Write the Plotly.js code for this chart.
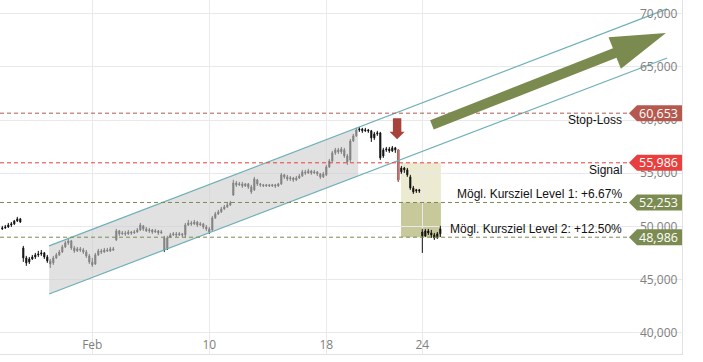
<!DOCTYPE html>
<html><head><meta charset="utf-8">
<script src="https://cdn.plot.ly/plotly-3.0.1.min.js"></script>
<style>html,body{margin:0;padding:0;background:#fff;}#chart{width:703px;height:362px;}</style>
</head><body><div id="chart"></div>
<script>
const openP = [
49770,49860,49950,50140,50240,50520,50710,
47980,47040,46660,46940,47130,47320,47410,
47510,47130,46760,46570,47040,47320,47600,
48070,48450,48640,47980,47700,47890,47790,
47600,47230,46660,46470,47320,47700,47600,
47790,47700,47890,48730,49580,49300,49390,
49300,49480,49390,49480,49670,50050,49770,
49580,49670,49480,49580,49390,48920,47890,
49010,49200,49300,49200,49300,49200,50140,
50330,50240,50420,50140,50240,49950,49770,
49670,50800,51180,51370,51650,51840,52020,
52960,54090,53910,54000,53810,54000,53720,
53440,54380,54000,53910,53810,53910,53810,
53910,53810,54000,54850,54660,54470,54560,
54380,54560,54750,55130,55030,55220,55030,
55130,54940,54660,54850,55600,56160,56920,
57200,57010,57200,56630,56260,58040,58520,
59080,59170,58990,59080,58990,58330,58700,
58800,56630,57200,57290,57100,57390,57200,
55130,55500,55320,54660,53620,53340,53440,
49480,49110,49580,49390,49200,48920,49300];
const closeP = [
49860,49950,50140,50240,50520,50710,50420,
47040,46570,46940,47130,47320,47410,47510,
47130,46760,46470,47040,47320,47600,48070,
48450,48640,47980,47700,47890,47790,47600,
47230,46660,46380,47320,47700,47600,47790,
47700,47890,47790,49580,49300,49390,49300,
49480,49390,49480,49670,50140,49770,49580,
49670,49480,49580,49390,49480,47790,48920,
49200,49300,49200,49300,49200,50140,50330,
50240,50420,50140,50240,49950,49770,49480,
50800,51180,51370,51650,51840,52020,52210,
54090,53910,54000,53810,54000,53720,53250,
54470,54000,53910,53810,53910,53810,53910,
53810,54000,54850,54660,54470,54560,54380,
54560,54750,55130,55030,55220,55030,55130,
54940,54660,54940,55600,56160,56920,57200,
57010,57290,56630,56070,58040,58520,59080,
59170,58990,59080,58990,58330,58700,58800,
56450,57200,57290,57100,57390,57200,54380,
55500,55320,54850,53620,53250,53440,53340,
49110,49580,49390,49200,48920,49300,49770];
const highP = [
50050,50140,50330,50420,50610,50900,50800,
48170,47230,47130,47320,47510,47700,47790,
47600,47320,46940,47230,47510,47790,48260,
48640,48920,48730,48170,48070,48070,47980,
47790,47410,47040,47510,47890,47890,47980,
47980,48070,48070,49770,49670,49580,49580,
49670,49580,49670,49860,50330,50140,49950,
49860,49770,49770,49670,49670,49110,49110,
49390,49480,49480,49480,49390,50330,50610,
50520,50610,50520,50420,50330,50140,49950,
50990,51370,51550,51840,52020,52210,52400,
54380,54280,54190,54190,54090,54090,53910,
54660,54470,54090,54000,54000,54000,54000,
54000,54090,55030,54940,54850,54750,54660,
54750,54940,55320,55320,55410,55320,55320,
55220,55030,55130,55790,56350,57100,57390,
57390,57480,57390,56820,58230,58700,59270,
59360,59270,59270,59170,59080,58890,58990,
58890,57390,57480,57480,57570,57480,57200,
55690,55600,55500,54850,53810,53530,53530,
49770,49770,49770,49670,49390,49480,50050];
const lowP = [
49670,49770,49860,49950,50140,50420,50330,
46660,46290,46470,46850,46940,47130,47230,
46940,46570,46100,46380,46940,47230,47510,
47980,48260,47790,47510,47600,47600,47410,
47040,46470,46190,46380,47230,47410,47510,
47600,47600,47700,48640,49110,49200,49110,
49200,49200,49300,49390,49580,49580,49480,
49390,49300,49390,49200,49300,47600,47790,
48920,49110,49010,49110,49010,48920,50050,
50050,50140,49950,50050,49770,49580,49300,
49580,50710,51080,51270,51550,51740,51930,
52870,53720,53810,53620,53720,53530,53060,
53340,53810,53720,53720,53720,53720,53720,
53620,53720,53910,54470,54280,54280,54190,
54280,54470,54660,54850,54940,54850,54940,
54750,54470,54560,54750,55500,56070,56730,
56820,56820,56450,55790,56070,57950,58420,
58890,58800,58890,58800,57950,58140,58520,
56260,56450,57010,56920,57010,56920,54190,
54940,55030,54660,53440,53060,53150,53150,
47510,49010,49200,48920,48730,48830,49010];

const tickIdx = [30, 69, 108, 140];
const tickText = ['Feb', '10', '18', '24'];
const yTicks = [40000, 45000, 50000, 55000, 60000, 65000, 70000];
const levels = [60653, 55986, 52253, 48986];
const levelNames = ['Stop-Loss', 'Signal', 'Mögl. Kursziel Level 1: +6.67%', 'Mögl. Kursziel Level 2: +12.50%'];
const channelX = [15.6, 221.6];
const channelUpper = [48170, 70460];
const channelLower = [43650, 65850];
const channelFillEnd = 118.6;
const signalIdx = 132;
const targetBoxX = [132.9, 146.2];
const trendStart = [143.2, 59550];

const idx = openP.map((_, i) => i);
function interp(xs, ys, x) { return ys[0] + (ys[1] - ys[0]) * (x - xs[0]) / (xs[1] - xs[0]); }

const lineColors = ['#b35a4f', '#e5413d', '#7b8b50', '#7b8b50'];
const tagColors = ['#b5594f', '#e8403e', '#7b8b52', '#7b8b52'];
const LBL = 'Liberation Sans, Arial, sans-serif';
const AX = 'Open Sans, sans-serif';

const traces = [
  { type: 'scatter', mode: 'lines', fill: 'toself', fillcolor: 'rgba(205,205,205,0.6)', line: { width: 0 },
    x: [channelX[0], channelFillEnd, channelFillEnd, channelX[0], channelX[0]],
    y: [interp(channelX, channelUpper, channelX[0]), interp(channelX, channelUpper, channelFillEnd),
        interp(channelX, channelLower, channelFillEnd), interp(channelX, channelLower, channelX[0]),
        interp(channelX, channelUpper, channelX[0])], hoverinfo: 'skip' },
  { type: 'scatter', mode: 'lines', x: channelX, y: channelUpper, line: { color: '#6eb0b8', width: 1.2 } },
  { type: 'scatter', mode: 'lines', x: channelX, y: channelLower, line: { color: '#6eb0b8', width: 1.2 } },
  { type: 'candlestick', x: idx, open: openP, high: highP, low: lowP, close: closeP,
    increasing: { line: { color: '#111', width: 1 }, fillcolor: '#111' },
    decreasing: { line: { color: '#111', width: 1 }, fillcolor: '#111' } },
  { type: 'candlestick', x: [signalIdx], open: [openP[signalIdx]], high: [highP[signalIdx]], low: [lowP[signalIdx]], close: [closeP[signalIdx]],
    increasing: { line: { color: '#cf6b68', width: 1 }, fillcolor: '#e39a98' },
    decreasing: { line: { color: '#cf6b68', width: 1 }, fillcolor: '#e39a98' } }
];

const shapes = [
  { type: 'rect', xref: 'x', yref: 'y', x0: targetBoxX[0], x1: targetBoxX[1], y0: levels[1], y1: levels[2],
    fillcolor: '#ecebd1', line: { width: 0 }, layer: 'below' },
  { type: 'rect', xref: 'x', yref: 'y', x0: targetBoxX[0], x1: targetBoxX[1], y0: levels[2], y1: levels[3],
    fillcolor: '#c8c99b', line: { width: 0 }, layer: 'below' }
];
const annotations = [];
levels.forEach((v, i) => {
  shapes.push({ type: 'line', xref: 'paper', yref: 'y', x0: 0, x1: 629 / 682, y0: v, y1: v,
    line: { color: lineColors[i], width: 1, dash: '4px,3px' }, layer: 'above' });
  shapes.push({ type: 'path', xref: 'paper', yref: 'y', xsizemode: 'pixel', ysizemode: 'pixel',
    xanchor: 1, yanchor: v, path: 'M -53 0 L -45 8 L 0 8 L 0 -8 L -45 -8 Z',
    fillcolor: tagColors[i], line: { width: 0 }, layer: 'above' });
  annotations.push({ xref: 'paper', yref: 'y', x: 658 / 682, y: v, text: v.toLocaleString('en-US'),
    showarrow: false, xanchor: 'center', yanchor: 'middle', font: { family: AX, size: 12.5, color: '#fff' } });
  annotations.push({ xref: 'paper', yref: 'y', x: 623 / 682, y: v, text: levelNames[i], showarrow: false,
    xanchor: 'right', yanchor: i < 2 ? 'top' : 'bottom', borderpad: 0, yshift: i < 2 ? 1 : 0,
    font: { family: LBL, size: 12, color: '#111' } });
});
// big trend arrow
shapes.push({ type: 'path', xref: 'x', yref: 'y', xsizemode: 'pixel', ysizemode: 'pixel',
  xanchor: trendStart[0], yanchor: trendStart[1],
  path: 'M 1.8 -4.7 L -1.8 4.7 L 181 76.6 L 176.6 87.7 L 234 92 L 189 56.1 L 184.6 67.2 Z',
  fillcolor: '#7b8b50', line: { width: 0 }, layer: 'above' });
// red down arrow above the signal candle
shapes.push({ type: 'path', xref: 'x', yref: 'y', xsizemode: 'pixel', ysizemode: 'pixel',
  xanchor: signalIdx - 0.4, yanchor: highP[signalIdx] + 1000,
  path: 'M 0 0 L 7.5 7.6 L 4.2 7.6 L 4.2 21 L -4.2 21 L -4.2 7.6 L -7.5 7.6 Z',
  fillcolor: '#a8433b', line: { width: 0 }, layer: 'above' });

const layout = {
  width: 703, height: 362,
  margin: { l: 0, r: 21, t: 0, b: 8 },
  paper_bgcolor: '#fff', plot_bgcolor: '#fff', showlegend: false,
  boxgap: 0.5,
  xaxis: { range: [-0.77, 226.56], tickmode: 'array', tickvals: tickIdx, ticktext: tickText,
    ticklabelposition: 'inside', ticklabelstandoff: 2, ticks: '', showgrid: true, gridcolor: '#e9e9e9', gridwidth: 1,
    showline: true, linecolor: '#e2e2e2', zeroline: false, rangeslider: { visible: false },
    tickfont: { family: AX, size: 12, color: '#808080' } },
  yaxis: { side: 'right', range: [38000, 71300], tickmode: 'array', tickvals: yTicks, tickformat: ',d',
    ticklabelposition: 'inside', ticklabelstandoff: 4, ticks: '', showgrid: true, gridcolor: '#e9e9e9', gridwidth: 1,
    showline: true, linecolor: '#e2e2e2', zeroline: false,
    tickfont: { family: AX, size: 12, color: '#808080' } },
  shapes: shapes, annotations: annotations
};
Plotly.newPlot('chart', traces, layout, { staticPlot: true, displayModeBar: false });
</script>
</body></html>
